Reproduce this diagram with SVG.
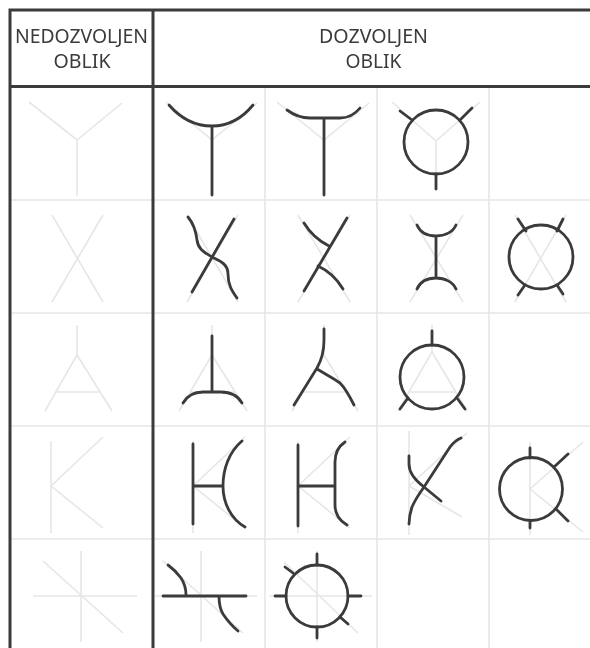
<svg xmlns="http://www.w3.org/2000/svg" width="590" height="648" viewBox="0 0 590 648">
<defs>
<style>
.g{fill:none;stroke:#e6e6e6;stroke-width:1.6}
.k{fill:none;stroke:#3a3a3a;stroke-width:2.8;stroke-linecap:round;stroke-linejoin:round}
.b{fill:none;stroke:#3a3a3a;stroke-width:3}
.t{font-family:"Noto Sans","DejaVu Sans",sans-serif;font-size:20px;fill:#3a3a3a;text-anchor:middle}
</style>
<filter id="soft" x="0" y="0" width="100%" height="100%" filterUnits="objectBoundingBox"><feGaussianBlur stdDeviation="0.55"/></filter>
</defs>
<rect width="590" height="648" fill="#fff"/>
<g filter="url(#soft)">
<rect width="590" height="648" fill="#fff"/>
<g id="grid">
<path class="g" d="M10 200H590M10 313H590M10 426H590M10 539H590M265 86V648M377 86V648M489 86V648"/>
<path class="b" d="M10 648V10H590M153 10V648M10 86.500H590"/>
</g>
<g id="header">
<text class="t" x="81.500" y="43" textLength="133" lengthAdjust="spacingAndGlyphs">NEDOZVOLJEN</text>
<text class="t" x="82" y="68" textLength="57" lengthAdjust="spacingAndGlyphs">OBLIK</text>
<text class="t" x="373.500" y="43" textLength="109" lengthAdjust="spacingAndGlyphs">DOZVOLJEN</text>
<text class="t" x="373.500" y="68" textLength="56" lengthAdjust="spacingAndGlyphs">OBLIK</text>
</g>
<g id="row1">
<path class="g" d="M29 102L77 140L122 103M77 140V196"/>
<g id="r1c1"><path class="g" d="M166 102L212 140L257 103"/><path class="k" d="M169 105Q187 126 212 126Q236 126 253 105M212 126V195"/></g>
<g id="r1c2"><path class="g" d="M277 102L324 140L369 103M324 140V196"/><path class="k" d="M287 110Q298 118 310 118H340Q352 118 360 108M324 118V195"/></g>
<g id="r1c3"><path class="g" d="M392 102L436 141L480 102M436 141V190"/><circle class="k" cx="436" cy="142" r="32"/><path class="k" d="M400 111L412 120M472 108L460 120M436 174V189"/></g>
</g>
<g id="row2">
<path class="g" d="M52 215L103 302M103 215L52 302"/>
<g id="r2c1"><path class="g" d="M187 215L238 302M238 215L187 302"/><path class="k" d="M234 219L192 292M188 217C194 224 196 232 197 240C198 250 206 253 212 257C220 261 228 264 228 274C228 285 232 291 237 298"/></g>
<g id="r2c2"><path class="g" d="M298 215L350 302M350 215L298 302"/><path class="k" d="M347 218L304 291M304 223C310 233 319 241 329 246M318 266C329 271 337 279 343 289"/></g>
<g id="r2c3"><path class="g" d="M410 215L463 302M463 215L410 302"/><path class="k" d="M417 225C420 232 427 236 436 236C445 236 453 232 456 225M436 236V278M417 289C420 282 427 278 436 278C445 278 453 282 456 289"/></g>
<g id="r2c4"><path class="g" d="M515 215L566 302M566 215L515 302"/><circle class="k" cx="541" cy="257" r="32"/><path class="k" d="M518 219L526 231M563 219L557 231M518 295L525 285M563 294L557 285"/></g>
</g>
<g id="row3">
<path class="g" d="M77 325V355L45 411M77 355L112 411M55 392H100"/>
<g id="r3c1"><path class="g" d="M212 325V355L179 411M212 355L247 411M190 392H235"/><path class="k" d="M212 336V392M183 403C187 396 193 392 203 392H221C231 392 238 396 242 403"/></g>
<g id="r3c2"><path class="g" d="M324 325V355L292 411M324 355L358 411M302 392H346"/><path class="k" d="M324 329V340C324 352 321 361 317 368L294 405M317 369C325 374 333 378 340 383C346 389 350 397 354 405"/></g>
<g id="r3c3"><path class="g" d="M432 325V352L398 411M432 352L467 411M410 392H455"/><circle class="k" cx="432" cy="377" r="32"/><path class="k" d="M432 331V345M408 398L400 409M457 398L465 409"/></g>
</g>
<g id="row4">
<path class="g" d="M51 441V533M51 486L103 437M51 486L103 528"/>
<g id="r4c1"><path class="g" d="M193 441V533M193 486L245 437M193 486L245 528"/><path class="k" d="M193 444V524M193 486H223M242 441C229 452 223 469 223 486C223 503 231 519 245 527"/></g>
<g id="r4c2"><path class="g" d="M298 441V533M298 486L350 437M298 486L350 528"/><path class="k" d="M298 445V526M298 486H335M345 442C339 446 335 453 335 462V505C335 514 340 521 347 525"/></g>
<g id="r4c3"><path class="g" d="M409 431V535M409 486L467 433M409 486L462 517"/><path class="k" d="M461 438C456 440 453 443 450 447L424 487C419 494 415 500 412 507C410 513 409 518 409 524M409 456V464C409 474 416 481 424 487L441 501"/></g>
<g id="r4c4"><path class="g" d="M530 442V535M530 489L583 442M530 489L583 532"/><circle class="k" cx="531" cy="489" r="31.500"/><path class="k" d="M530 448V458M568 454L554 467M568 521L556 509M530 521V528"/></g>
</g>
<g id="row5">
<path class="g" d="M81 551V642M33 596H137M43 561L123 633"/>
<g id="r5c1"><path class="g" d="M201 551V642M155 596H257M163 561L243 633"/><path class="k" d="M163 596H246M168 565C175 570 178 574 181 578C185 584 186 589 186 595M219 596C219 604 220 609 223 614C227 620 232 626 238 631"/></g>
<g id="r5c2"><path class="g" d="M317 551V642M269 596H372M284 562L358 633"/><circle class="k" cx="317" cy="596" r="31"/><path class="k" d="M317 554V565M348 596H361M275 596H286M317 627V638M285 567L293 573M340 617L348 624"/></g>
</g>
</g>
</svg>
